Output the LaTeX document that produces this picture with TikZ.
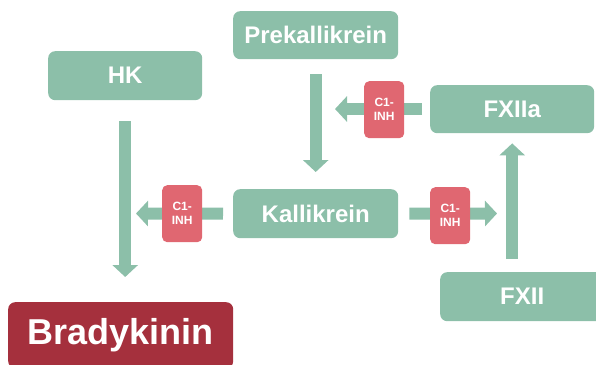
\documentclass[tikz,border=0pt]{standalone}
\usepackage{fontspec}
\setmainfont{Liberation Sans}
\usetikzlibrary{arrows.meta}
\definecolor{grn}{HTML}{8CBFA9}
\definecolor{inh}{HTML}{E06771}
\definecolor{brd}{HTML}{A5303D}
\begin{document}
\begin{tikzpicture}[x=1pt,y=-1pt,
  box/.style={fill=grn, rounded corners=7pt, text=white, inner sep=0pt, anchor=north west,
    font=\bfseries\fontsize{24}{28}\selectfont},
  inhbox/.style={fill=inh, rounded corners=5pt, text=white, inner sep=0pt, anchor=north west,
    align=center, minimum width=40pt, minimum height=57pt,
    font=\bfseries\fontsize{12}{14}\selectfont},
  arr/.style={draw=grn, line width=12pt, -{Triangle[width=25pt,length=12pt]}}]
\useasboundingbox (0,0) rectangle (596,364);
\node[box, minimum width=154pt, minimum height=49pt] (hk) at (48,51) {HK};
\node[box, minimum width=165pt, minimum height=48pt] (pre) at (233,11) {Prekallikrein};
\node[box, minimum width=164pt, minimum height=48pt] (fxa) at (430,85) {FXIIa};
\node[box, minimum width=165pt, minimum height=49pt] (kal) at (233,189) {Kallikrein};
\node[box, minimum width=164pt, minimum height=49pt] (fx) at (440,272) {FXII};
\node[box, fill=brd, minimum width=225pt, minimum height=66pt,
  font=\bfseries\fontsize{36}{40}\selectfont] (brady) at (8,302) {Bradykinin};
\coordinate (kl) at (136,213.5);
\coordinate (kr) at (497,213.5);
\coordinate (fl) at (335,109);
\draw[arr, shorten <=21pt, shorten >=25pt] (hk.south) -- (hk.south |- brady.north);
\draw[arr, shorten <=15pt, shorten >=17pt] (pre.south) -- (pre.south |- kal.north);
\draw[arr, shorten <=10pt] (kal.west) -- (kl);
\draw[arr, shorten <=11pt] (kal.east) -- (kr);
\draw[arr, shorten <=8pt] (fxa.west |- fl) -- (fl);
\draw[arr, shorten <=13pt, shorten >=10pt] (fxa.south |- fx.north) -- (fxa.south);
\node[inhbox] (i1) at (364,81) {C1-\\INH};
\node[inhbox] (i2) at (162,185) {C1-\\INH};
\node[inhbox] (i3) at (430,187) {C1-\\INH};
\end{tikzpicture}
\end{document}
